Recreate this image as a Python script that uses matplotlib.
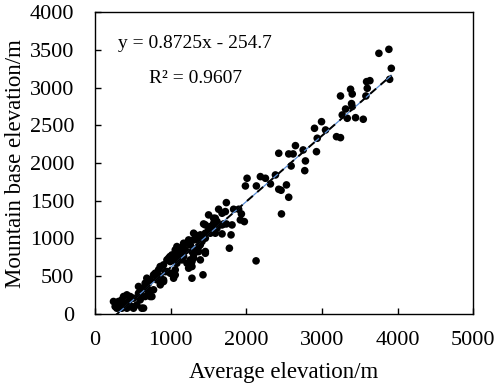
import matplotlib
matplotlib.use("Agg")
import matplotlib.pyplot as plt
import numpy as np

plt.rcParams["font.family"] = ["Liberation Serif", "DejaVu Serif"]

# average elevation (m) / mountain base elevation (m)
avg_elev = [
    3754, 3886, 3918, 3896, 3591, 3635, 3600, 3379, 3401, 3246, 3582, 3313, 3392, 3401,
    3269, 3335, 3445, 3547, 2995, 2902, 3048, 2938, 3193, 3246, 2650, 2752, 2561, 2619,
    2429, 2928, 2782, 2593, 2773, 2385, 2010, 2186, 2253, 1988, 2133, 2319, 2429, 2460,
    2531, 2561, 2465, 2129,
    1736, 1832, 1935, 1899, 1634, 1679, 1501, 1435, 1567, 1811, 1921, 1974, 1736, 1679,
    1524, 1612, 1546, 1798, 1723, 1612, 1568, 1701, 1303, 1392, 1458, 1524, 1590, 1347,
    1414, 1458, 1369, 1458, 1776, 1303, 1392, 1281, 1427, 1281,
    1325, 1303, 1391, 1347, 1259, 1303, 1237, 1215, 1148, 1016, 1126, 1193, 1170, 1082,
    1060, 990, 950, 994, 1038, 1082, 905, 861, 927, 994, 1060, 1038, 905, 861, 817, 795,
    773, 729, 706, 684, 662, 706, 751, 618, 574, 596, 508, 464, 442, 397, 353, 309, 243,
    265, 287, 353, 420, 464, 508, 552, 618, 596, 662, 729,
    332, 376, 420, 486, 574, 641, 839, 906, 950, 1060, 773, 707, 862, 972, 1082, 1127, 641,
    1590, 1568, 1458, 1679, 1502, 1237, 1171, 1259, 1127, 1082, 1171, 1281, 1369, 1281, 1458,
]
base_elev = [
    3457, 3510, 3258, 3112, 3081, 3094, 2993, 2980, 2917, 2891, 2891, 2718, 2790, 2750,
    2639, 2595, 2603, 2582, 2550, 2462, 2440, 2330, 2351, 2338, 2232, 2175, 2122, 2122,
    2131, 2152, 2029, 1962, 1900, 1843, 1799, 1821, 1799, 1697, 1697, 1724, 1653, 1640,
    1711, 1547, 1326, 703,
    1476, 1388, 1326, 1388, 1388, 1335, 1313, 1193, 1269, 1180, 1246, 1224, 1193, 1061,
    1158, 1136, 1091, 1048, 1357, 1225, 1181, 1194, 1070, 1048, 1070, 1070, 1070, 982,
    960, 1004, 893, 827, 871, 739, 716, 628, 518, 473,
    1048, 981, 915, 871, 716, 782, 606, 672, 716, 782, 827, 849, 915, 893,
    849, 760, 716, 694, 716, 672, 650, 628, 561, 539, 517, 473, 451, 495, 451, 539,
    517, 451, 407, 473, 407, 318, 230, 318, 363, 252, 208, 230, 164, 119, 186, 164, 164,
    97, 75, 75, 75, 97, 75, 119, 75, 186, 230, 230,
    142, 230, 252, 98, 274, 341, 584, 429, 562, 584, 319, 274, 385, 738, 761, 805, 76,
    1268, 1202, 1180, 1180, 1114, 981, 937, 915, 870, 804, 760, 826, 826, 694, 804,
]

slope, intercept = 0.8725, -254.7
eq_line = "y = 0.8725x - 254.7"
r2_line = "R² = 0.9607"

fig = plt.figure(figsize=(4.98, 3.87), dpi=100)
ax = fig.add_axes([0.191, 0.189, 0.759, 0.779])

ax.scatter(avg_elev, base_elev, s=30, color="black", edgecolors="none", zorder=3)

xs = np.array([min(avg_elev), max(avg_elev)])
ys = slope * xs + intercept
ax.plot(xs, ys, color="#5b8fd6", lw=0.9, zorder=4)
ax.plot(xs, ys, color="black", lw=1.4, linestyle=(0, (4, 3)), zorder=5)

# two-line trendline label, centred like Excel does it
fig.text(0.392, 0.887, eq_line, ha="center", va="center", fontsize=14)
fig.text(0.392, 0.798, r2_line, ha="center", va="center", fontsize=14)

ax.set_xlim(0, 5000)
ax.set_ylim(0, 4000)
ax.set_xticks(range(0, 5001, 1000))
ax.set_yticks(range(0, 4001, 500))
ax.tick_params(direction="in", length=4.5, width=1, labelsize=16)
ax.tick_params(axis="x", pad=12)
ax.tick_params(axis="y", pad=15)
for s in ax.spines.values():
    s.set_linewidth(1)
ax.set_xlabel("Average elevation/m", fontsize=16.5, labelpad=9)
ax.set_ylabel("Mountain base elevation/m", fontsize=16.5, labelpad=3)

fig.savefig("out.png", dpi=100, facecolor="white")
